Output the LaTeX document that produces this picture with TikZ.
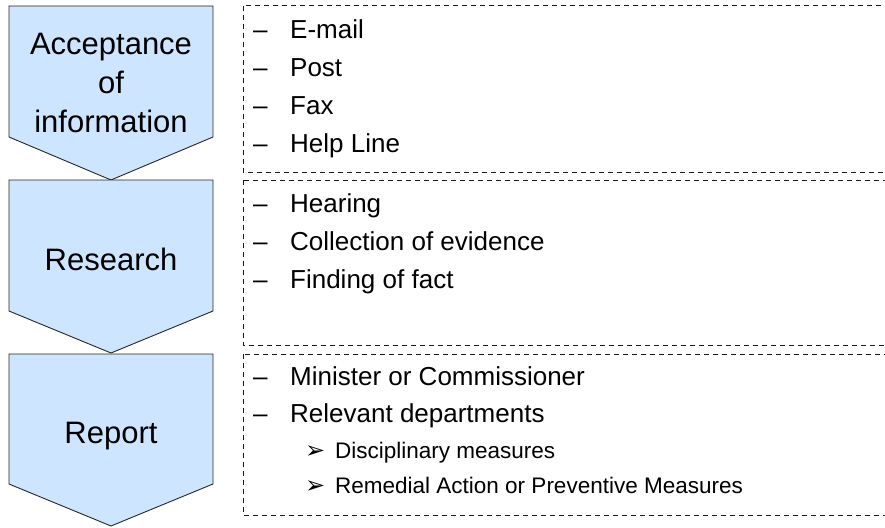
\documentclass[tikz,border=0pt]{standalone}
\usepackage{fontspec}
\setmainfont{Liberation Sans}
\newfontfamily\symfont{DejaVu Sans}
\usepackage{tikz}
\definecolor{stepblue}{RGB}{206,229,255}
\tikzstyle{stepshape}=[draw=black!85, fill=stepblue, line width=0.9pt, line join=miter]
\tikzstyle{steplabel}=[font=\fontsize{31}{39}\selectfont, align=center, inner sep=0pt]
\tikzstyle{listbox}=[draw=black!90, dash pattern=on 5pt off 4pt, line width=1pt]
\tikzstyle{item}=[font=\fontsize{26}{31}\selectfont, anchor=base west, inner sep=0pt]
\tikzstyle{subitem}=[font=\fontsize{22.5}{27}\selectfont, anchor=base west, inner sep=0pt]
\newcommand{\dashitem}[1]{\makebox[37pt][l]{--}#1}
\newcommand{\arrowitem}[1]{\makebox[30pt][l]{\raisebox{0pt}{\symfont\fontsize{24}{24}\selectfont ➢}}#1}

\begin{document}
\begin{tikzpicture}[x=1pt, y=-1pt]
	\useasboundingbox (0,0) rectangle (885,527);
	\clip (0,0) rectangle (885,527);

	% the three steps
	\draw[stepshape] (9,6) -- (213,6) -- (213,137) -- (111,180) -- (9,137) -- cycle;
	\draw[stepshape] (9,180) -- (213,180) -- (213,311) -- (111,353) -- (9,311) -- cycle;
	\draw[stepshape] (9,354) -- (213,354) -- (213,484) -- (111,526) -- (9,484) -- cycle;

	\node[steplabel] (accept) at (111,83) {Acceptance\\of\\information};
	\node[steplabel, anchor=base] (research) at (111,270) {Research};
	\node[steplabel, anchor=base] (report) at (111,443) {Report};

	% dashed boxes
	\draw[listbox] (243,6) rectangle (900,172);
	\draw[listbox] (243,180) rectangle (900,345);
	\draw[listbox] (243,354) rectangle (900,515);

	\node[item] (mail) at (253,38) {\dashitem{E-mail}};
	\node[item] (post) at (253,76) {\dashitem{Post}};
	\node[item] (fax) at (253,114) {\dashitem{Fax}};
	\node[item] (helpline) at (253,152) {\dashitem{Help Line}};

	\node[item] (hearing) at (253,212) {\dashitem{Hearing}};
	\node[item] (evidence) at (253,250) {\dashitem{Collection of evidence}};
	\node[item] (fact) at (253,288) {\dashitem{Finding of fact}};

	\node[item] (minister) at (253,385) {\dashitem{Minister or Commissioner}};
	\node[item] (depts) at (253,422) {\dashitem{Relevant departments}};
	\node[subitem] (discipline) at (305,458) {\arrowitem{Disciplinary measures}};
	\node[subitem] (remedial) at (305,493) {\arrowitem{Remedial Action or Preventive Measures}};

\end{tikzpicture}
\end{document}
